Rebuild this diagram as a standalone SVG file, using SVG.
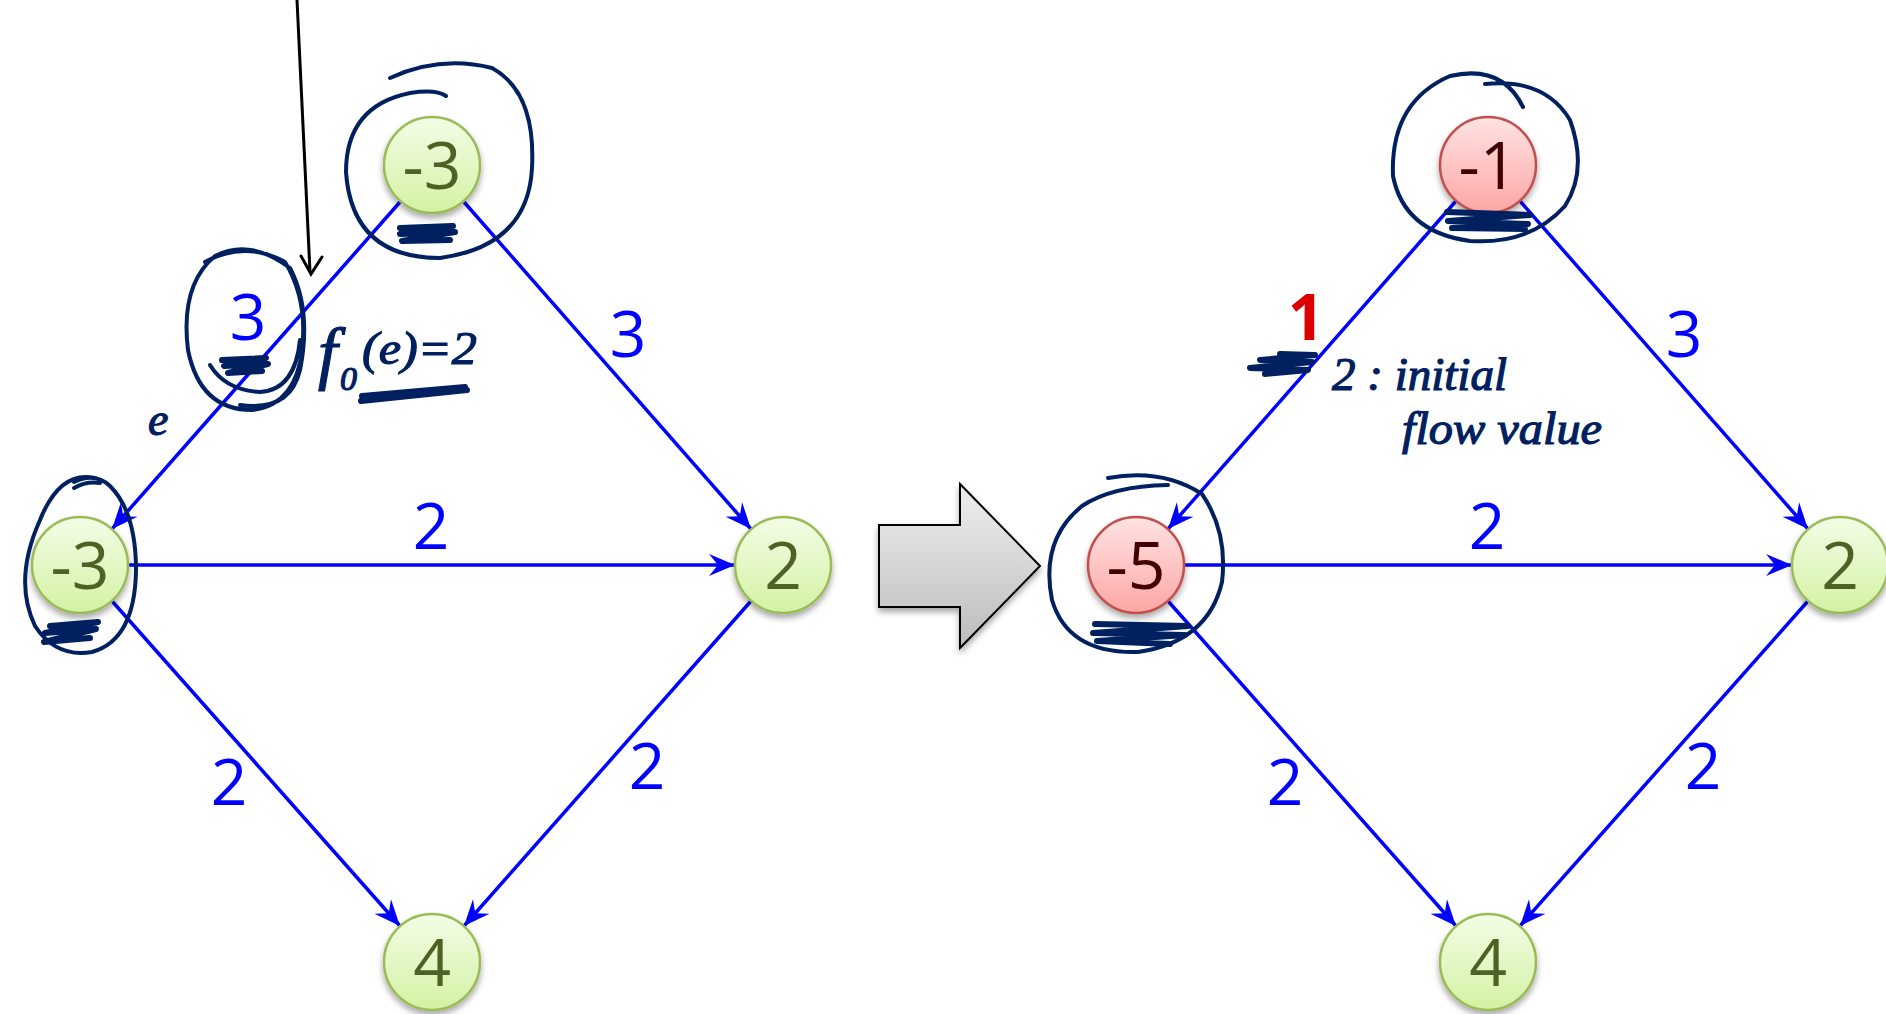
<svg xmlns="http://www.w3.org/2000/svg" width="1886" height="1014" viewBox="0 0 1886 1014">
<defs>
<linearGradient id="gGreen" x1="0" y1="0" x2="0" y2="1"><stop offset="0" stop-color="#f3fde6"/><stop offset="1" stop-color="#d3f2a4"/></linearGradient>
<linearGradient id="gRed" x1="0" y1="0" x2="0" y2="1"><stop offset="0" stop-color="#ffe3e3"/><stop offset="1" stop-color="#ffa6a6"/></linearGradient>
<linearGradient id="gGrey" x1="0" y1="0" x2="0" y2="1"><stop offset="0" stop-color="#efefef"/><stop offset="1" stop-color="#bcbcbc"/></linearGradient>
<filter id="shadow" x="-30%" y="-30%" width="160%" height="170%"><feGaussianBlur in="SourceAlpha" stdDeviation="3"/><feOffset dy="4" result="b"/><feComponentTransfer><feFuncA type="linear" slope="0.35"/></feComponentTransfer><feMerge><feMergeNode/><feMergeNode in="SourceGraphic"/></feMerge></filter>
<marker id="arr" markerUnits="userSpaceOnUse" markerWidth="30" markerHeight="26" refX="0" refY="0" viewBox="-26 -13 30 26" orient="auto"><path d="M0,0 L-26,-11 L-17,0 L-26,11 Z" fill="#0000ff"/></marker>
</defs>
<style>
.edge{stroke:#0000ff;stroke-width:3.5;fill:none;marker-end:url(#arr)}
.lbl{font-family:"Open Sans","Liberation Sans",sans-serif;font-size:64px;fill:#0000ff;text-anchor:middle}
.ng circle{fill:url(#gGreen);stroke:#9bbb59;stroke-width:2.5}
.nr circle{fill:url(#gRed);stroke:#c0504d;stroke-width:2.5}
.nt{font-family:"Open Sans","Liberation Sans",sans-serif;font-size:66px;text-anchor:middle}
.ng .nt{fill:#4f6228}
.nr .nt{fill:#420000}
.ink{fill:none;stroke:#002060;stroke-width:4;stroke-linecap:round;stroke-linejoin:round}
.scr{fill:none;stroke:#002060;stroke-width:6;stroke-linecap:round;stroke-linejoin:round}
.hw{font-family:"Liberation Serif",serif;font-style:italic;fill:#002060;stroke:#002060;stroke-width:1.2}
</style>
<rect width="1886" height="1014" fill="#ffffff"/>
<g id="connectors">
<line class="edge" x1="400" y1="202" x2="112" y2="529"/>
<line class="edge" x1="464" y1="202" x2="751" y2="529"/>
<line class="edge" x1="128" y1="565" x2="735" y2="565"/>
<line class="edge" x1="112" y1="601" x2="400" y2="926"/>
<line class="edge" x1="751" y1="601" x2="464" y2="926"/>
<line class="edge" x1="1456" y1="201" x2="1168" y2="529"/>
<line class="edge" x1="1520" y1="201" x2="1808" y2="529"/>
<line class="edge" x1="1184" y1="565" x2="1792" y2="565"/>
<line class="edge" x1="1168" y1="601" x2="1456" y2="926"/>
<line class="edge" x1="1808" y1="601" x2="1520" y2="926"/>
</g>
<g id="edge-labels">
<text class="lbl" x="248" y="340">3</text>
<text class="lbl" x="628" y="357">3</text>
<text class="lbl" x="431" y="549">2</text>
<text class="lbl" x="229" y="805">2</text>
<text class="lbl" x="647" y="789">2</text>
<text class="lbl" x="1684" y="357">3</text>
<text class="lbl" x="1487" y="549">2</text>
<text class="lbl" x="1285" y="805">2</text>
<text class="lbl" x="1703" y="789">2</text>
<text x="1306" y="340" font-family="Open Sans, Liberation Sans, sans-serif" font-size="64" font-weight="bold" fill="#dc0000" text-anchor="middle">1</text>
</g>
<g id="node-L-top" class="ng" filter="url(#shadow)"><circle cx="432" cy="165" r="48"/><text class="nt" x="432" y="189">-3</text></g>
<g id="node-L-left" class="ng" filter="url(#shadow)"><circle cx="80" cy="565" r="48"/><text class="nt" x="80" y="589">-3</text></g>
<g id="node-L-right" class="ng" filter="url(#shadow)"><circle cx="783" cy="565" r="48"/><text class="nt" x="783" y="589">2</text></g>
<g id="node-L-bottom" class="ng" filter="url(#shadow)"><circle cx="432" cy="962" r="48"/><text class="nt" x="432" y="986">4</text></g>
<g id="node-R-top" class="nr" filter="url(#shadow)"><circle cx="1488" cy="165" r="48"/><text class="nt" x="1488" y="189">-1</text></g>
<g id="node-R-left" class="nr" filter="url(#shadow)"><circle cx="1136" cy="565" r="48"/><text class="nt" x="1136" y="589">-5</text></g>
<g id="node-R-right" class="ng" filter="url(#shadow)"><circle cx="1840" cy="565" r="48"/><text class="nt" x="1840" y="589">2</text></g>
<g id="node-R-bottom" class="ng" filter="url(#shadow)"><circle cx="1488" cy="962" r="48"/><text class="nt" x="1488" y="986">4</text></g>
<g id="block-arrow" filter="url(#shadow)">
<path d="M879,525 L960,525 L960,484 L1040,566 L960,648 L960,607 L879,607 Z" fill="url(#gGrey)" stroke="#000000" stroke-width="2"/>
</g>
<g id="annotations">
<path d="M297,0 L310,272" stroke="#000000" stroke-width="3" fill="none"/>
<path d="M301,256 L311,274 L322,257" stroke="#000000" stroke-width="3" fill="none" stroke-linecap="round"/>
<path class="ink" d="M390,78 Q440,55 492,68 Q536,92 532,168 Q528,246 440,258 Q352,258 346,172 Q346,106 410,93 Q436,89 446,96"/>
<path class="ink" d="M205,262 Q245,240 285,262 Q308,300 302,350 Q296,405 252,410 Q200,410 188,350 Q180,285 215,256 Q250,238 290,268 Q312,310 300,370 Q290,412 240,405"/>
<path class="ink" d="M210,365 Q225,390 260,392 Q295,390 300,340"/>
<path class="ink" d="M95,478 Q60,470 40,520 Q13,580 35,626 Q56,658 92,652 Q135,640 136,570 Q136,512 110,486 Q95,472 74,482"/>
<path class="ink" d="M74,488 Q86,481 100,483"/>
<path class="ink" d="M1108,478 Q1162,468 1202,494 Q1228,532 1222,582 Q1208,642 1138,652 Q1068,654 1052,600 Q1040,540 1082,506 Q1112,486 1168,485"/>
<path class="ink" d="M1485,84 Q1545,78 1570,120 Q1588,170 1565,206 Q1530,245 1470,241 Q1404,232 1393,176 Q1390,102 1450,76 Q1502,64 1523,107"/>
<path class="scr" d="M400,228 L453,226 L400,234 L455,232 L402,241 L450,240"/>
<path class="scr" d="M222,360 L266,358 L224,366 L268,364 L228,373 L262,371"/>
<path class="scr" d="M50,626 L98,622 L45,633 L96,629 L44,642 L90,638"/>
<path class="scr" d="M1095,624 L1188,626 L1093,633 L1185,635 L1097,641 L1170,644"/>
<path class="scr" d="M1447,212 L1530,215 L1448,221 L1528,224 L1452,228 L1525,229"/>
<path class="scr" d="M1280,354 L1315,355 L1260,360 L1312,362 L1250,368 L1308,370 L1265,374"/>
<path class="scr" d="M361,401 L467,390 M362,396 L465,387" stroke-width="5"/>
<text class="hw" x="318" y="376" font-size="70">f</text>
<text class="hw" x="340" y="390" font-size="34">0</text>
<text class="hw" x="362" y="364" font-size="46" textLength="115" lengthAdjust="spacingAndGlyphs">(e)=2</text>
<text class="hw" x="148" y="435" font-size="46">e</text>
<text class="hw" x="1332" y="390" font-size="46" textLength="175" lengthAdjust="spacingAndGlyphs">2 : initial</text>
<text class="hw" x="1402" y="444" font-size="46" textLength="200" lengthAdjust="spacingAndGlyphs">flow value</text>
</g>
</svg>
